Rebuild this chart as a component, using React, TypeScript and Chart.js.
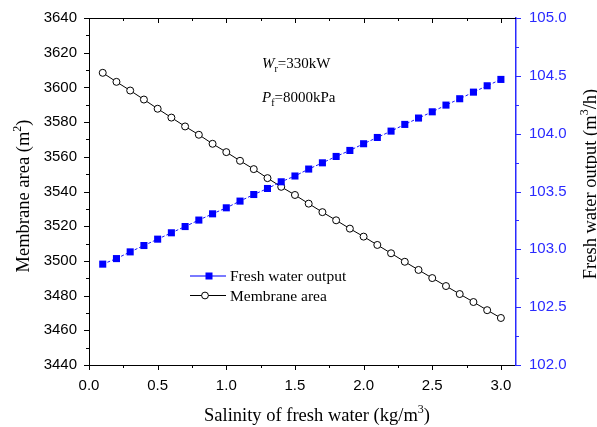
import React, { useEffect, useRef } from "react";
import { Chart, registerables } from "chart.js";

Chart.register(...registerables);

// ---- data ----
const salinity = [0.1, 0.2, 0.3, 0.4, 0.5, 0.6, 0.7, 0.8, 0.9, 1.0, 1.1, 1.2, 1.3, 1.4, 1.5, 1.6, 1.7, 1.8, 1.9, 2.0, 2.1, 2.2, 2.3, 2.4, 2.5, 2.6, 2.7, 2.8, 2.9, 3.0];
const membraneArea = [3608.4, 3603.2, 3598.2, 3593.0, 3587.7, 3582.6, 3577.5, 3572.7, 3567.5, 3562.7, 3557.7, 3552.9, 3547.7, 3542.7, 3538.0, 3533.0, 3528.1, 3523.4, 3518.6, 3514.0, 3509.2, 3504.4, 3499.5, 3494.8, 3490.1, 3485.5, 3480.9, 3476.3, 3471.6, 3467.1];
const freshWaterOutput = [102.872, 102.92, 102.978, 103.033, 103.088, 103.143, 103.197, 103.253, 103.307, 103.359, 103.417, 103.474, 103.526, 103.584, 103.634, 103.694, 103.748, 103.803, 103.855, 103.913, 103.967, 104.022, 104.08, 104.135, 104.189, 104.247, 104.302, 104.359, 104.414, 104.469];

const xTicks = [0, 0.5, 1.0, 1.5, 2.0, 2.5, 3.0];
const leftTicks = [3440, 3460, 3480, 3500, 3520, 3540, 3560, 3580, 3600, 3620, 3640];
const rightTicks = [102.0, 102.5, 103.0, 103.5, 104.0, 104.5, 105.0];

const seriesNames = ["Fresh water output", "Membrane area"];
const annotation1 = { main: "W", sub: "r", rest: "=330kW" };
const annotation2 = { main: "P", sub: "f", rest: "=8000kPa" };

const BLUE = "#2a2aff";
const SANS = "'Liberation Sans', Arial, sans-serif";
const SERIF = "'Liberation Serif', 'Times New Roman', serif";

type Part = { text: string; size: number; italic?: boolean; dy?: number };

function drawParts(ctx: CanvasRenderingContext2D, parts: Part[], x: number, y: number, align: "left" | "center") {
  let total = 0;
  const widths: number[] = [];
  for (const p of parts) {
    ctx.font = `${p.italic ? "italic " : ""}${p.size}px ${SERIF}`;
    const w = ctx.measureText(p.text).width;
    widths.push(w);
    total += w;
  }
  let cx = align === "center" ? x - total / 2 : x;
  ctx.textAlign = "left";
  ctx.textBaseline = "alphabetic";
  parts.forEach((p, i) => {
    ctx.font = `${p.italic ? "italic " : ""}${p.size}px ${SERIF}`;
    ctx.fillText(p.text, cx, y + (p.dy || 0));
    cx += widths[i];
  });
}

// rectangles instead of strokes for crisp 1px marks
function hMark(ctx: CanvasRenderingContext2D, x1: number, x2: number, y: number, color: string, h = 1) {
  ctx.fillStyle = color;
  ctx.fillRect(Math.min(x1, x2), Math.round(y), Math.abs(x2 - x1), h);
}
function vMark(ctx: CanvasRenderingContext2D, x: number, y1: number, y2: number, color: string, w = 1) {
  ctx.fillStyle = color;
  ctx.fillRect(Math.round(x), Math.min(y1, y2), w, Math.abs(y2 - y1));
}

const decorPlugin = {
  id: "decor",
  afterDraw(chart: any) {
    const ctx: CanvasRenderingContext2D = chart.ctx;
    const area = chart.chartArea;
    const aTop = area.top;
    const aBottom = area.bottom;
    const aLeft = area.left;
    const aRight = area.right;
    const xs = chart.scales.x;
    const ys = chart.scales.y;
    const y2 = chart.scales.y2;
    ctx.save();

    // top frame line
    hMark(ctx, aLeft, aRight, aTop, "#000");

    // x ticks (bottom outward, top inward)
    const xStep = (xTicks[1] - xTicks[0]) / 2;
    const nx = Math.round((xTicks[xTicks.length - 1] - xTicks[0]) / xStep);
    for (let i = 0; i <= nx; i++) {
      const v = xTicks[0] + i * xStep;
      const len = i % 2 === 0 ? 5 : 3;
      const px = xs.getPixelForValue(v);
      vMark(ctx, px, aBottom, aBottom + len, "#000");
      vMark(ctx, px, aTop, aTop + len, "#000");
    }

    // left ticks (outward)
    const lStep = (leftTicks[1] - leftTicks[0]) / 2;
    for (let i = 0; i <= (leftTicks.length - 1) * 2; i++) {
      const v = leftTicks[0] + i * lStep;
      const len = i % 2 === 0 ? 5 : 3;
      hMark(ctx, aLeft - len, aLeft, ys.getPixelForValue(v), "#000");
    }

    // right ticks (outward, blue)
    const rStep = (rightTicks[1] - rightTicks[0]) / 2;
    for (let i = 0; i <= (rightTicks.length - 1) * 2; i++) {
      const v = rightTicks[0] + i * rStep;
      const len = i % 2 === 0 ? 5 : 3;
      hMark(ctx, aRight, aRight + len, y2.getPixelForValue(v), BLUE);
    }

    ctx.fillStyle = "#000";
    // bottom title
    drawParts(
      ctx,
      [
        { text: "Salinity of fresh water (kg/m", size: 18.5 },
        { text: "3", size: 12, dy: -8 },
        { text: ")", size: 18.5 },
      ],
      317,
      421,
      "center"
    );

    // left title
    ctx.save();
    ctx.translate(29, 196);
    ctx.rotate(-Math.PI / 2);
    drawParts(
      ctx,
      [
        { text: "Membrane area (m", size: 18.5 },
        { text: "2", size: 12, dy: -8 },
        { text: ")", size: 18.5 },
      ],
      0,
      0,
      "center"
    );
    ctx.restore();

    // right title
    ctx.save();
    ctx.translate(596, 184);
    ctx.rotate(-Math.PI / 2);
    drawParts(
      ctx,
      [
        { text: "Fresh water output (m", size: 18.5 },
        { text: "3", size: 12, dy: -8 },
        { text: "/h)", size: 18.5 },
      ],
      0,
      0,
      "center"
    );
    ctx.restore();

    // annotations
    drawParts(
      ctx,
      [
        { text: annotation1.main, size: 15, italic: true },
        { text: annotation1.sub, size: 10, dy: 4 },
        { text: annotation1.rest, size: 15 },
      ],
      262,
      68,
      "left"
    );
    drawParts(
      ctx,
      [
        { text: annotation2.main, size: 15, italic: true },
        { text: annotation2.sub, size: 10, dy: 4 },
        { text: annotation2.rest, size: 15 },
      ],
      262,
      102,
      "left"
    );

    // legend
    const ds0 = chart.data.datasets[0];
    const ds1 = chart.data.datasets[1];
    const row1 = 275;
    const row2 = 295;
    hMark(ctx, 190, 226, row1, "#7a7aff", 2);
    ctx.fillStyle = ds0.pointBackgroundColor;
    ctx.fillRect(205.5, row1 - 2.5, 7, 7);
    hMark(ctx, 190, 226, row2, "#000", 1);
    ctx.fillStyle = "#fff";
    ctx.beginPath();
    ctx.arc(205, row2 + 0.5, 3.4, 0, Math.PI * 2);
    ctx.fill();
    ctx.setLineDash([]);
    ctx.strokeStyle = ds1.pointBorderColor;
    ctx.lineWidth = 1;
    ctx.stroke();
    ctx.fillStyle = "#000";
    ctx.font = `15.5px ${SERIF}`;
    ctx.textAlign = "left";
    ctx.textBaseline = "alphabetic";
    ctx.fillText(ds0.label, 230, row1 + 5.5);
    ctx.fillText(ds1.label, 230, row2 + 5.5);

    ctx.restore();
  },
};

function noEdgePadding(s: any) {
  s.paddingTop = 0;
  s.paddingBottom = 0;
  s.paddingLeft = 0;
  s.paddingRight = 0;
}

export default function App() {
  const ref = useRef<HTMLCanvasElement | null>(null);

  useEffect(() => {
    if (!ref.current) return;
    const tickFont = { family: SANS, size: 15 };
    const chart = new Chart(ref.current, {
      type: "line",
      data: {
        datasets: [
          {
            label: seriesNames[0],
            data: salinity.map((x, i) => ({ x, y: freshWaterOutput[i] })),
            yAxisID: "y2",
            borderColor: "#1515ff",
            borderWidth: 1,
            borderDash: [3, 2],
            pointStyle: "rect",
            pointRadius: 5,
            pointBackgroundColor: "#0000ff",
            pointBorderColor: "#0000ff",
            pointBorderWidth: 0,
            tension: 0,
          },
          {
            label: seriesNames[1],
            data: salinity.map((x, i) => ({ x, y: membraneArea[i] })),
            yAxisID: "y",
            borderColor: "#000",
            borderWidth: 1,
            pointStyle: "circle",
            pointRadius: 3.5,
            pointBackgroundColor: "#fff",
            pointBorderColor: "#000",
            pointBorderWidth: 1,
            tension: 0,
          },
        ],
      },
      options: {
        animation: false,
        responsive: false,
        maintainAspectRatio: false,
        layout: { padding: { top: 18, left: 0, right: 0, bottom: 0 } },
        plugins: {
          legend: { display: false },
          title: { display: false },
          tooltip: { enabled: false },
        },
        scales: {
          x: {
            type: "linear",
            position: "bottom",
            min: 0,
            max: 3.11,
            afterBuildTicks: (s: any) => {
              s.ticks = xTicks.map((v) => ({ value: v }));
            },
            afterFit: (s: any) => {
              s.height = 62;
              noEdgePadding(s);
            },
            ticks: {
              font: tickFont,
              color: "#000",
              padding: 12,
              maxRotation: 0,
              autoSkip: false,
              callback: (v: any) => Number(v).toFixed(1),
            },
            grid: { display: true, drawOnChartArea: false, drawTicks: false },
            border: { display: true, color: "#000", width: 1 },
          },
          y: {
            type: "linear",
            position: "left",
            min: 3440,
            max: 3640,
            afterBuildTicks: (s: any) => {
              s.ticks = leftTicks.map((v) => ({ value: v }));
            },
            afterFit: (s: any) => {
              s.width = 89;
              noEdgePadding(s);
            },
            ticks: {
              font: tickFont,
              color: "#000",
              padding: 12,
              autoSkip: false,
              callback: (v: any) => String(v),
            },
            grid: { display: true, drawOnChartArea: false, drawTicks: false },
            border: { display: true, color: "#000", width: 1 },
          },
          y2: {
            type: "linear",
            position: "right",
            min: 102,
            max: 105,
            afterBuildTicks: (s: any) => {
              s.ticks = rightTicks.map((v) => ({ value: v }));
            },
            afterFit: (s: any) => {
              s.width = 81;
              noEdgePadding(s);
            },
            ticks: {
              font: tickFont,
              color: BLUE,
              padding: 13,
              autoSkip: false,
              callback: (v: any) => Number(v).toFixed(1),
            },
            grid: { display: true, drawOnChartArea: false, drawTicks: false },
            border: { display: true, color: BLUE, width: 1.5 },
          },
        },
      },
      plugins: [decorPlugin],
    } as any);
    return () => chart.destroy();
  }, []);

  return (
    <div style={{ position: "absolute", left: 0, top: 0, width: 597, height: 427, background: "#fff" }}>
      <canvas ref={ref} width={597} height={427} style={{ display: "block", width: 597, height: 427 }} />
    </div>
  );
}
